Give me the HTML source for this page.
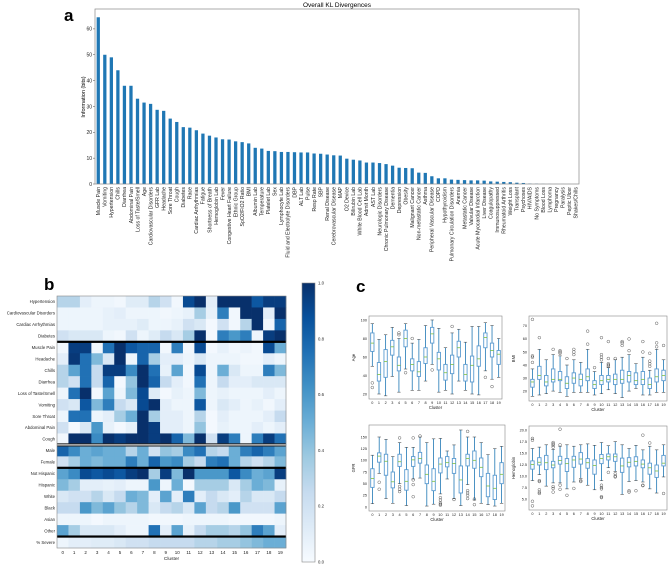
<!DOCTYPE html>
<html><head><meta charset="utf-8"><style>
html,body{margin:0;padding:0;background:#fff;}
svg{display:block;font-family:"Liberation Sans",sans-serif;}
</style></head><body>
<svg id="fig" width="669" height="565" viewBox="0 0 669 565" xmlns="http://www.w3.org/2000/svg">
<text x="64" y="21" font-size="17" font-weight="bold">a</text>
<text x="44" y="290" font-size="17" font-weight="bold">b</text>
<text x="356" y="292" font-size="17" font-weight="bold">c</text>
<text x="337" y="7" font-size="6.5" text-anchor="middle">Overall KL Divergences</text>
<text transform="translate(85,97) rotate(-90)" font-size="5.5" text-anchor="middle">Information (bits)</text>
</svg>
<script>
// ---------- Panel a data ----------
const barCategories = ["Muscle Pain","Vomiting","Hypertension","Chills","Diarrhea","Abdominal Pain","Loss of Taste/Smell","Age","Cardiovascular Disorders","GFR Lab","Headache","Sore Throat","Cough","Diabetes","Race","Cardiac Arrhythmias","Fatigue","Shortness of Breath","Hemoglobin Lab","Fever","Congestive Heart Failure","Ethnic Group","SpO2/FiO2 Ratio","BMI","Albumin Lab","Temperature","Platelet Lab","Sex","Lymphocyte Lab","Fluid and Electrolyte Disorders","DBP","ALT Lab","Pulse","Resp Rate","SBP","Renal Disease","Cerebrovascular Disease","MAP","O2 Device","Bilirubin Lab","White Blood Cell Lab","Admit Month","AST Lab","Neurologic Disorders","Chronic Pulmonary Disease","Dementia","Depression","Obesity","Malignant Cancer","Non-metastatic Cancer","Asthma","Peripheral Vascular Disease","COPD","Hypothyroidism","Pulmonary Circulation Disorders","Anemia","Metastatic Cancer","Valvular Disease","Acute Myocardial Infarction","Liver Disease","Coagulopathy","Immunosuppressed","Rheumatoid Arthritis","Weight Loss","Transplant","Psychoses","HIV/AIDS","No Symptoms","Blood Loss","Lymphoma","Pregnancy","Paralysis","Peptic Ulcer","Shakes/Chills"];
const barValues = [64.5,50,49,44,38,38,33,31.5,31,28.7,28.3,25.3,24,22,21.8,20.8,19.5,18.7,18,17.3,17.2,16.5,16.2,15.7,14,13.7,12.8,12.7,12.4,12.4,12.3,12.2,12.2,11.8,11.7,11.4,11.1,11,9.8,9.4,9.1,8.3,8.3,8.1,7.7,7.1,6.3,6.2,6.1,4.4,4.3,3.0,2.2,2.2,1.7,1.6,1.5,1.4,1.4,1.3,1.0,0.9,0.8,0.7,0.5,0.4,0.15,0.1,0.05,0.03,0.02,0.02,0.01,0.01];
const barTicks = [0,10,20,30,40,50,60];

// ---------- Panel b data ----------
const heatRows = ["Hypertension","Cardiovascular Disorders","Cardiac Arrhythmias","Diabetes","Muscle Pain","Headache","Chills","Diarrhea","Loss of Taste/Smell","Vomiting","Sore Throat","Abdominal Pain","Cough","Male","Female","Not Hispanic","Hispanic","White","Black","Asian","Other","% Severe"];
const heatCols = [0,1,2,3,4,5,6,7,8,9,10,11,12,13,14,15,16,17,18,19];
const heatValues = [
[0.3,0.3,0.1,0.05,0.05,0.03,0.12,0.12,0.3,0.2,0.03,0.9,1.0,0.1,1.0,1.0,1.0,0.85,0.95,0.95],
[0.05,0.05,0.05,0.05,0.08,0.1,0.05,0.05,0.05,0.03,0.05,0.08,0.35,0.08,0.7,0.03,1.0,1.0,0.1,1.0],
[0.05,0.05,0.05,0.05,0.08,0.08,0.08,0.12,0.05,0.05,0.08,0.2,0.15,0.02,0.2,0.03,0.3,1.0,0.03,0.8],
[0.2,0.15,0.15,0.15,0.05,0.03,0.2,0.05,0.12,0.25,0.15,0.35,1.0,0.02,0.7,0.6,0.7,0.05,0.95,1.0],
[0.03,0.95,0.95,0.03,0.75,1.0,0.85,0.8,0.8,0.03,0.7,0.03,0.9,0.02,0.08,0.03,0.06,0.03,0.9,0.5],
[0.1,0.97,0.75,0.45,0.15,1.0,0.05,0.8,0.35,0.1,0.1,0.05,0.15,0.05,0.05,0.05,0.03,0.03,0.1,0.05],
[0.3,0.55,0.75,0.25,0.95,0.95,0.65,1.0,0.75,0.08,0.55,0.03,0.9,0.05,0.5,0.15,0.05,0.05,0.7,0.45],
[0.3,0.2,0.75,0.25,0.8,0.02,0.4,1.0,0.8,0.25,0.1,0.03,0.75,0.05,0.25,0.1,0.1,0.15,0.15,0.15],
[0.05,0.75,1.0,0.02,0.55,0.05,0.45,0.9,0.12,0.02,0.08,0.05,0.45,0.05,0.08,0.05,0.05,0.05,0.1,0.05],
[0.2,0.15,0.85,0.45,0.7,0.25,0.15,0.9,1.0,0.1,0.05,0.05,0.85,0.05,0.15,0.1,0.05,0.08,0.03,0.1],
[0.05,0.75,0.75,0.05,0.1,0.35,0.5,1.0,0.35,0.1,0.1,0.05,0.3,0.02,0.1,0.05,0.05,0.05,0.1,0.25],
[0.2,0.02,0.15,0.6,0.08,0.02,0.08,1.0,0.95,0.1,0.1,0.05,0.4,0.02,0.08,0.05,0.05,0.1,0.05,0.1],
[0.03,1.0,1.0,0.65,1.0,0.95,1.0,1.0,0.95,1.0,0.8,0.45,1.0,0.2,0.95,0.7,0.05,0.7,0.95,0.75],
[0.8,0.65,0.5,0.55,0.5,0.5,0.3,0.5,0.2,0.4,0.35,0.65,0.75,0.3,0.25,0.5,0.7,0.8,0.7,0.55],
[0.2,0.35,0.5,0.45,0.5,0.5,0.7,0.5,0.8,0.6,0.65,0.35,0.25,0.7,0.75,0.5,0.3,0.2,0.3,0.45],
[0.55,0.65,0.9,0.85,0.9,0.85,0.95,1.0,0.35,0.95,0.45,1.0,0.6,0.6,0.6,0.85,0.65,0.5,0.55,0.95],
[0.45,0.35,0.1,0.1,0.08,0.1,0.05,0.05,0.6,0.05,0.5,0.02,0.35,0.35,0.35,0.15,0.35,0.5,0.45,0.08],
[0.15,0.2,0.2,0.3,0.15,0.25,0.5,0.45,0.1,0.55,0.1,0.7,0.1,0.25,0.15,0.1,0.3,0.15,0.15,0.25],
[0.25,0.25,0.6,0.45,0.55,0.4,0.3,0.45,0.15,0.25,0.3,0.15,0.55,0.25,0.3,0.6,0.2,0.2,0.2,0.55],
[0.05,0.05,0.05,0.02,0.05,0.05,0.05,0.05,0.03,0.03,0.03,0.05,0.05,0.05,0.05,0.03,0.03,0.03,0.03,0.05],
[0.55,0.35,0.15,0.15,0.15,0.1,0.05,0.05,0.75,0.1,0.55,0.08,0.25,0.35,0.35,0.3,0.4,0.7,0.55,0.1],
[0.05,0.1,0.1,0.12,0.12,0.15,0.2,0.2,0.25,0.25,0.25,0.25,0.3,0.3,0.35,0.35,0.4,0.45,0.5,0.5]];
const colorbarTicks = [0.0,0.2,0.4,0.6,0.8,1.0];
const heatSeparators = [4,13,15,21];

// ---------- Panel c data: [low whisker, q1, median, q3, high whisker] ----------
const clusters = [0,1,2,3,4,5,6,7,8,9,10,11,12,13,14,15,16,17,18,19];
const ageStats = [[50,66,75,86,96],[20,34,41,54,79],[18,38,55,68,84],[39,62,71,78,92],[22,45,51,60,80],[47,71,80,89,96],[24,45,52,58,75],[24,39,44,55,79],[34,53,60,70,94],[52,75,85,92,100],[22,46,58,65,91],[24,35,43,52,70],[20,42,52,62,86],[34,60,70,77,90],[24,34,41,52,76],[20,33,51,61,93],[19,50,58,72,93],[45,70,81,86,97],[36,60,67,75,94],[38,52,63,67,80]];
const ageOutliers = [[32,27],[],[],[],[84,86],[43],[80],[],[],[46],[],[],[93],[],[],[],[],[38],[28],[]];
const ageTicks = [20,40,60,80,100];
const bmiStats = [[16,23,27,29,37],[17,29,32,39,52],[18,24,27,32,44],[20,27,29,37,48],[19,28,29,35,47],[16,22,26,31,40],[19,26,30,34,44],[19,24,29,33,42],[19,28,31,37,52],[17,22,25,28,35],[18,25,28,32,42],[21,27,29,32,38],[18,25,29,33,44],[15,26,29,36,46],[20,27,32,35,48],[22,25,28,34,41],[17,25,29,35,46],[17,22,25,30,36],[19,27,31,37,52],[19,28,32,36,44]];
const bmiOutliers = [[42,46,47,75],[61],[],[52],[49,50,51],[45],[48,50,52],[],[56,66],[38],[44,46,48,61],[39,40,41,45,58],[45],[55,57,58],[51,60],[],[50,58],[39,41,43,49],[54,57,72],[55]];
const bmiTicks = [20,30,40,50,60,70];
const gfrStats = [[7,42,61,82,111],[72,96,109,116,150],[18,68,98,113,145],[8,41,54,75,108],[50,87,97,113,138],[3,36,55,80,128],[60,87,101,108,128],[62,94,104,117,150],[2,50,70,90,138],[6,35,55,82,146],[28,73,92,105,147],[60,86,95,108,120],[18,72,93,104,133],[3,30,58,88,165],[48,88,104,113,150],[15,83,100,120,150],[8,65,85,105,138],[5,22,45,72,112],[2,16,40,68,125],[8,50,70,95,130]];
const gfrOutliers = [[],[53,38],[],[],[33,38,44,148],[],[22,48,58,148],[152],[],[],[4,6,9,15,20],[],[16],[],[18,25,30,35,162],[5,17],[],[],[],[]];
const gfrTicks = [0,25,50,75,100,125,150];
const hgbStats = [[9,11.5,12.5,13.3,16],[10.3,12.4,13,14,16.3],[7.8,11.4,12.9,14.5,16.8],[8.5,11.8,12.4,13.2,15.8],[8.5,12.6,13.4,14.3,16.5],[7.2,11,12.7,13.8,16.8],[8.7,11.9,13.5,14.3,16.5],[9.5,12.6,13.7,15.1,16.8],[8,11.7,12.9,13.8,17],[7,10.4,12.3,13.5,16.7],[9,12.7,13.8,14.7,17.3],[11.8,13.5,14.2,14.8,16.6],[11,13.2,14.2,14.8,17.5],[6,10.8,12.2,13.9,16.8],[8.8,12,13,14,16],[9,12.2,13.2,14.2,16.7],[8.7,11.8,12.6,13.5,15.7],[7.2,10.4,11.8,12.8,16.5],[6.3,9.7,11.1,12.4,15.7],[9.8,12.2,12.8,14.5,16.8]];
const hgbOutliers = [[4.5,3.5,17.8,18.2],[9,8.8,7,6.5,6.2],[],[7.7,7.3,6.5,16.3,16.7,17,17.3],[8,7.1,20.2,16.8],[5.8],[7.3],[9,8.8],[],[],[8,7.5,7.2,5.5,5.3],[10.8],[10.5,10,9.8],[],[6.8,6.5],[6.8],[8,7.9,18.9],[17.2],[],[6.2]];
const hgbTicks = [5.0,7.5,10.0,12.5,15.0,17.5,20.0];

const NS = "http://www.w3.org/2000/svg";
const svg = document.getElementById('fig');
function mk(tag, attrs, parent) {
  const el = document.createElementNS(NS, tag);
  for (const k in attrs) el.setAttribute(k, attrs[k]);
  (parent || svg).appendChild(el);
  return el;
}
function txt(content, attrs, parent) {
  const el = mk('text', attrs, parent);
  el.textContent = content;
  return el;
}

// ---------- Panel a ----------
(function(){
  const L = 95, R = 579, T = 9, B = 184, vmax = 67.7;
  const y = v => B - v / vmax * (B - T);
  const step = (R - L) / barCategories.length;
  const x = i => L + step * (i + 0.5);
  const g = mk('g', {});
  
  
  barValues.forEach((v, i) => {
    const r = mk('rect', {x: x(i) - step * 0.25, y: y(v), width: step * 0.5, height: B - y(v), fill: '#1f77b4'}, g);
    
    
    const t = txt(barCategories[i], {transform: `translate(${x(i) + 1.8},187) rotate(-90)`, 'font-size': 5.2, 'text-anchor': 'end', fill: '#222'}, g);
    
    
  });
  barTicks.forEach(v => {
    const l = mk('line', {x1: L - 2, x2: L, y1: y(v), y2: y(v), stroke: '#444', 'stroke-width': 0.5}, g);
    
    
    const t = txt(String(v), {x: L - 3, y: y(v) + 1.8, 'font-size': 5, 'text-anchor': 'end', fill: '#222'}, g);
    
    
  });
  const f = mk('rect', {x: L, y: T, width: R - L, height: B - T, fill: 'none', stroke: '#888', 'stroke-width': 0.7}, g);
  
  
})();

// ---------- Colormap ----------
const blues = [[247,251,255],[222,235,247],[198,219,239],[158,202,225],[107,174,214],[66,146,198],[33,113,181],[8,81,156],[8,48,107]];
function cmap(v) {
  v = Math.max(0, Math.min(1, v));
  const p = v * 8, i = Math.min(7, Math.floor(p)), f = p - i;
  const a = blues[i], b = blues[i + 1];
  return `rgb(${a.map((c, k) => Math.round(c + (b[k] - c) * f)).join(',')})`;
}

// ---------- Panel b ----------
(function(){
  const L = 57, R = 286, T = 296, B = 548;
  const cw = (R - L) / heatCols.length, rh = (B - T) / heatRows.length;
  const g = mk('g', {});
  
  
  heatValues.forEach((row, r) => {
    row.forEach((v, c) => {
      const cell = mk('rect', {x: L + c * cw, y: T + r * rh, width: cw + 0.3, height: rh + 0.3, fill: cmap(v)}, g);
      
      
    });
    const t = txt(heatRows[r], {x: L - 2, y: T + (r + 0.5) * rh + 1.5, 'font-size': 4.3, 'text-anchor': 'end', fill: '#222'}, g);
    
    
  });
  heatSeparators.forEach(s => {
    const yy = T + s * rh;
    if (s === 13) {
      const w = mk('rect', {x: L, y: yy - 1.6, width: R - L, height: 3.2, fill: '#222'}, g);
      
      
      const w2 = mk('rect', {x: L, y: yy - 0.6, width: R - L, height: 1.2, fill: '#ddd'}, g);
      
      
    } else {
      const l = mk('rect', {x: L, y: yy - 1.1, width: R - L, height: 2.2, fill: '#000'}, g);
      
      
    }
  });
  heatCols.forEach((c, i) => {
    const t = txt(String(c), {x: L + (i + 0.5) * cw, y: B + 6, 'font-size': 4.5, 'text-anchor': 'middle', fill: '#222'}, g);
    
    
  });
  const xl = txt('Cluster', {x: (L + R) / 2, y: B + 12, 'font-size': 4.8, 'text-anchor': 'middle', fill: '#222'}, g);
  
  
  const f = mk('rect', {x: L, y: T, width: R - L, height: B - T, fill: 'none', stroke: '#888', 'stroke-width': 0.6}, g);
  
  
  // colorbar
  const cbL = 302, cbR = 315, cbT = 283, cbB = 562;
  const defs = mk('defs', {}, g);
  const lg = mk('linearGradient', {id: 'cbgrad', x1: 0, y1: 1, x2: 0, y2: 0}, defs);
  for (let i = 0; i <= 8; i++) mk('stop', {offset: i / 8, 'stop-color': cmap(i / 8)}, lg);
  const cb = mk('rect', {x: cbL, y: cbT, width: cbR - cbL, height: cbB - cbT, fill: 'url(#cbgrad)', stroke: '#888', 'stroke-width': 0.6}, g);
  
  
  colorbarTicks.forEach(v => {
    const yy = cbB - v * (cbB - cbT);
    const t = txt(v.toFixed(1), {x: cbR + 3, y: yy + 1.5, 'font-size': 4.3, fill: '#222'}, g);
    
    
  });
})();

// ---------- Panel c ----------
function boxPanel(name, ylabel, stats, outliers, ticks, L, R, T, B, vmin, vmax, fmt) {
  const g = mk('g', {});
  
  
  const y = v => B - (v - vmin) / (vmax - vmin) * (B - T);
  const step = (R - L) / clusters.length;
  const x = i => L + step * (i + 0.5);
  const bw = step * 0.5;
  stats.forEach((s, i) => {
    const cx = x(i);
    const wl = mk('line', {x1: cx, x2: cx, y1: y(s[0]), y2: y(s[1]), stroke: '#1f77b4', 'stroke-width': 0.8}, g);
    
    
    const wh = mk('line', {x1: cx, x2: cx, y1: y(s[3]), y2: y(s[4]), stroke: '#1f77b4', 'stroke-width': 0.8}, g);
    
    
    const c1 = mk('line', {x1: cx - bw / 2, x2: cx + bw / 2, y1: y(s[0]), y2: y(s[0]), stroke: '#333', 'stroke-width': 0.5}, g);
    
    
    const c2 = mk('line', {x1: cx - bw / 2, x2: cx + bw / 2, y1: y(s[4]), y2: y(s[4]), stroke: '#333', 'stroke-width': 0.5}, g);
    
    
    const b = mk('rect', {x: cx - bw / 2, y: y(s[3]), width: bw, height: y(s[1]) - y(s[3]), fill: 'none', stroke: '#5b9bd0', 'stroke-width': 0.9}, g);
    
    
    const m = mk('line', {x1: cx - bw / 2, x2: cx + bw / 2, y1: y(s[2]), y2: y(s[2]), stroke: '#7cc040', 'stroke-width': 0.8}, g);
    
    
    outliers[i].forEach(o => {
      const c = mk('circle', {cx: cx, cy: y(o), r: 1.4, fill: 'none', stroke: '#333', 'stroke-width': 0.4}, g);
      
      
    });
    const t = txt(String(clusters[i]), {x: cx, y: B + 5, 'font-size': 3.8, 'text-anchor': 'middle', fill: '#222'}, g);
    
    
  });
  ticks.forEach(v => {
    const t = txt(fmt(v), {x: L - 2, y: y(v) + 1.3, 'font-size': 3.8, 'text-anchor': 'end', fill: '#222'}, g);
    
    
  });
  const xl = txt('Cluster', {x: (L + R) / 2, y: B + 10, 'font-size': 4.2, 'text-anchor': 'middle', fill: '#222'}, g);
  
  
  const yl = txt(ylabel, {transform: `translate(${L - 14},${(T + B) / 2}) rotate(-90)`, 'font-size': 4.2, 'text-anchor': 'middle', fill: '#222'}, g);
  
  
  const f = mk('rect', {x: L, y: T, width: R - L, height: B - T, fill: 'none', stroke: '#888', 'stroke-width': 0.6}, g);
  
  
}
boxPanel('age-boxplot', 'Age', ageStats, ageOutliers, ageTicks, 369, 502, 316, 399, 14.6, 104.3, v => String(v));
boxPanel('bmi-boxplot', 'BMI', bmiStats, bmiOutliers, bmiTicks, 529, 667, 316, 401, 12.4, 77.6, v => String(v));
boxPanel('gfr-boxplot', 'GFR', gfrStats, gfrOutliers, gfrTicks, 369, 505, 425, 511, -8.6, 175.7, v => String(v));
boxPanel('hemoglobin-boxplot', 'Hemoglobin', hgbStats, hgbOutliers, hgbTicks, 529, 667, 426, 510, 2.6, 20.9, v => v.toFixed(1));
</script>
</body></html>
